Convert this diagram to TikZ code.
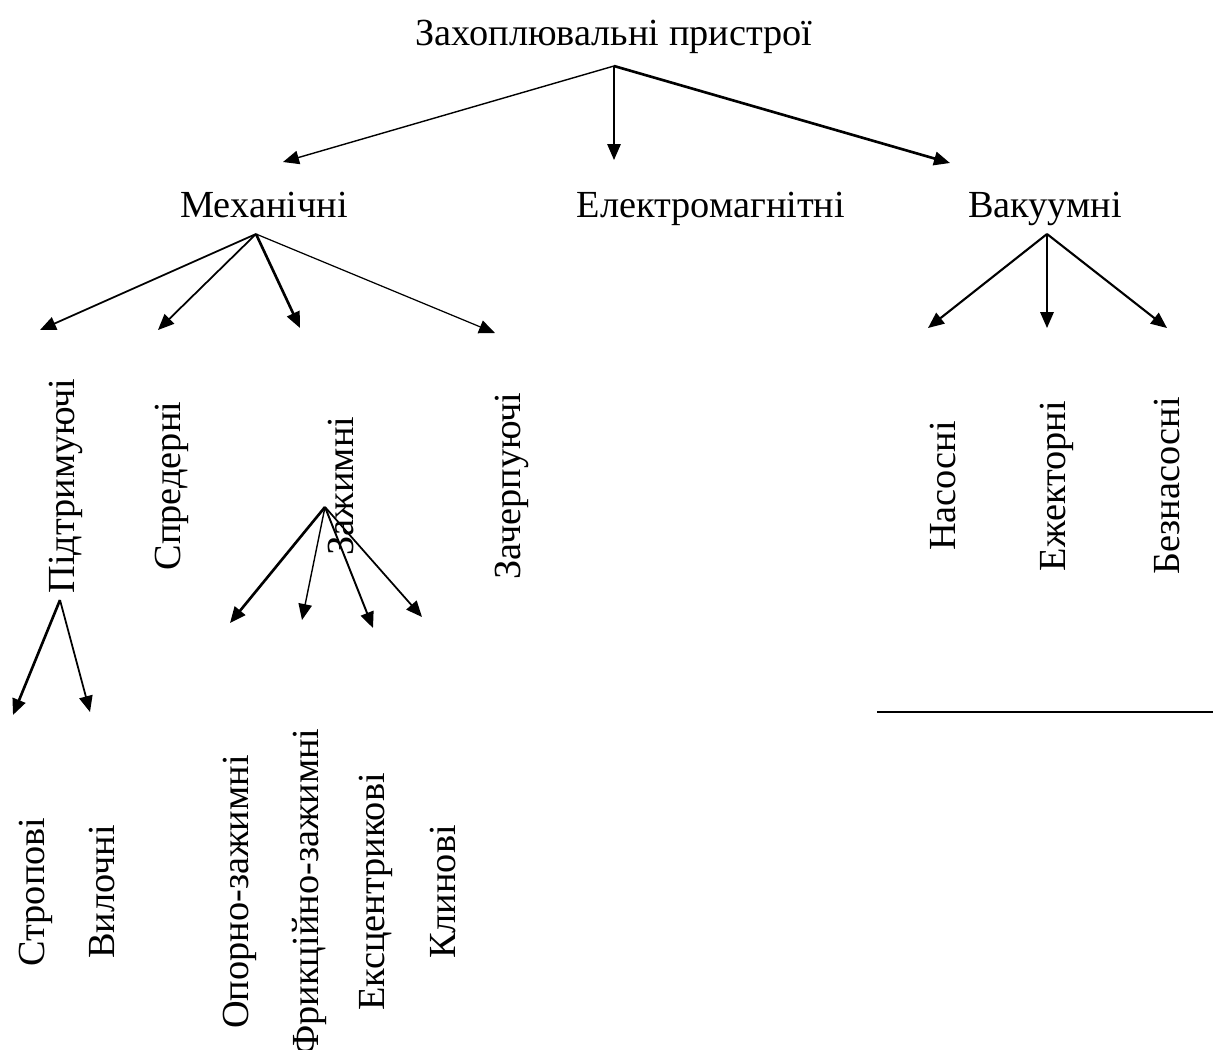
\documentclass[tikz,border=0pt]{standalone}
\usepackage{fontspec}
\setmainfont{Liberation Serif}
\usetikzlibrary{arrows.meta}
\tikzset{
  lbl/.style={font=\fontsize{21.8}{26}\selectfont, inner sep=0pt},
  vlbl/.style={lbl, rotate=90},
  arr/.style={-{Triangle[length=0.32cm, width=0.27cm]}, line width=0.8pt}
}

\begin{document}
\begin{tikzpicture}
\useasboundingbox (0,0) rectangle (24.36,-20.98);

% ── Level 0 / 1 ──────────────────────────────────────────────────────────────
\node[lbl, anchor=base] (zah) at (12.28,-0.90) {Захоплювальні пристрої};
\node[lbl, anchor=base] (mech) at (5.28,-4.34) {Механічні};
\node[lbl, anchor=base] (elec) at (14.22,-4.34) {Електромагнітні};
\node[lbl, anchor=base] (vac) at (20.90,-4.34) {Вакуумні};

\coordinate (zah-out) at (12.28,-1.32);
\foreach \n/\tx/\ty/\lw in {mech/5.66/-3.24/0.8pt,
                            elec/12.28/-3.20/0.8pt,
                            vac/19.00/-3.26/1.5pt} {
  \coordinate (\n-in) at (\tx,\ty);
  \draw[arr, line width=\lw] (zah-out) -- (\n-in);
}

% ── Механічні ────────────────────────────────────────────────────────────────
\node[vlbl] (pidt) at (1.32,-9.72) {Підтримуючі};
\node[vlbl] (spr)  at (3.44,-9.72) {Спредерні};
\node[vlbl] (zaj)  at (6.82,-9.72) {Зажимні};
\node[vlbl] (zach) at (10.24,-9.72) {Зачерпуючі};

\coordinate (mech-out) at (5.12,-4.68);
\foreach \n/\tx/\ty/\lw in {pidt/0.80/-6.60/1.0pt,
                            spr/3.16/-6.60/1.0pt,
                            zaj/6.00/-6.56/1.5pt,
                            zach/9.90/-6.66/0.7pt} {
  \coordinate (\n-in) at (\tx,\ty);
  \draw[arr, line width=\lw] (mech-out) -- (\n-in);
}

% ── Вакуумні ─────────────────────────────────────────────────────────────────
\node[vlbl] (nas) at (18.86,-9.72) {Насосні};
\node[vlbl] (ezh) at (21.14,-9.72) {Ежекторні};
\node[vlbl] (bez) at (23.34,-9.72) {Безнасосні};

\coordinate (vac-out) at (20.94,-4.68);
\foreach \n/\tx/\ty/\lw in {nas/18.56/-6.56/1.2pt,
                            ezh/20.94/-6.56/1.0pt,
                            bez/23.34/-6.56/1.2pt} {
  \coordinate (\n-in) at (\tx,\ty);
  \draw[arr, line width=\lw] (vac-out) -- (\n-in);
}

\draw[line width=1.1pt] (17.54,-14.24) -- (24.26,-14.24);

% ── Підтримуючі ──────────────────────────────────────────────────────────────
\node[vlbl] (strop) at (0.72,-17.84) {Стропові};
\node[vlbl] (vyl)   at (2.04,-17.84) {Вилочні};

\coordinate (pidt-out) at (1.20,-12.00);
\foreach \n/\tx/\ty/\lw in {strop/0.26/-14.30/1.5pt,
                            vyl/1.80/-14.24/1.0pt} {
  \coordinate (\n-in) at (\tx,\ty);
  \draw[arr, line width=\lw] (pidt-out) -- (\n-in);
}

% ── Зажимні ──────────────────────────────────────────────────────────────────
\node[vlbl] (opor) at (4.80,-17.84) {Опорно-зажимні};
\node[vlbl] (fryk) at (6.18,-17.84) {Фрикційно-зажимні};
\node[vlbl] (eksc) at (7.52,-17.84) {Ексцентрикові};
\node[vlbl] (klyn) at (8.86,-17.84) {Клинові};

\coordinate (zaj-out) at (6.50,-10.14);
\foreach \n/\tx/\ty/\lw in {opor/4.60/-12.46/1.5pt,
                            fryk/6.04/-12.40/0.8pt,
                            eksc/7.46/-12.56/1.1pt,
                            klyn/8.44/-12.34/1.0pt} {
  \coordinate (\n-in) at (\tx,\ty);
  \draw[arr, line width=\lw] (zaj-out) -- (\n-in);
}

\end{tikzpicture}
\end{document}
